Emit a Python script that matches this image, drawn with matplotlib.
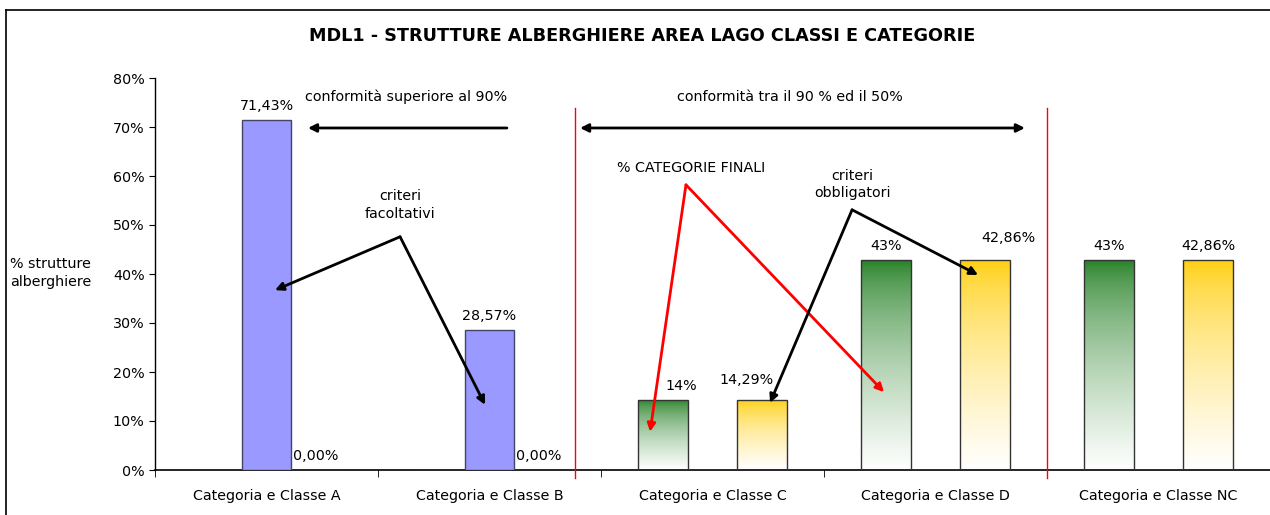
import numpy as np
import matplotlib
matplotlib.use("Agg")
import matplotlib.pyplot as plt
from matplotlib.lines import Line2D
from matplotlib.colors import to_rgb

# dati
categorie = ["Categoria e Classe A", "Categoria e Classe B", "Categoria e Classe C",
             "Categoria e Classe D", "Categoria e Classe NC"]
verde = [0, 0, 14.29, 42.86, 42.86]
blu = [71.43, 28.57, 0, 0, 0]
giallo = [0, 0, 14.29, 42.86, 42.86]
yticks = [0, 10, 20, 30, 40, 50, 60, 70, 80]

plt.rcParams['font.family'] = ['DejaVu Sans']
fs = 10.3

fig = plt.figure(figsize=(12.7, 5.15), dpi=100)
ax = fig.add_axes([155 / 1270, 45 / 515, 1115 / 1270, 392 / 515])

x = np.arange(len(categorie))
w = 0.224
off = 0.222


def gradiente(ax, bars, top_col):
    c0 = np.array(to_rgb(top_col))
    c1 = np.array([1.0, 1.0, 1.0])
    t = np.linspace(0, 1, 200)[:, None] ** 0.6
    img = (c0 * (1 - t) + c1 * t)[:, None, :]
    for b in bars:
        h = b.get_height()
        if h <= 0:
            continue
        x0 = b.get_x()
        im = ax.imshow(img, extent=(x0, x0 + b.get_width(), 0, h), aspect='auto',
                       origin='upper', zorder=2, interpolation='bilinear')
        im.set_clip_path(b)


b_verde = ax.bar(x - off, verde, w, facecolor='none', edgecolor='#333333', linewidth=1.0, zorder=3)
b_blu = ax.bar(x, blu, w, color='#9999FF', edgecolor='#444466', linewidth=1.0, zorder=3)
b_giallo = ax.bar(x + off, giallo, w, facecolor='none', edgecolor='#333333', linewidth=1.0, zorder=3)
gradiente(ax, b_verde, '#1B7A1B')
gradiente(ax, b_giallo, '#FFCC00')

# etichette dei valori
spost_verde = [0, 0, 13, 0, 0]
spost_giallo = [0, 0, -11, 17, 0]
alto_giallo = [0, 0, 4, 6, 0]
for i in range(len(categorie)):
    if blu[i] > 0:
        ax.annotate(f"{blu[i]:.2f}".replace('.', ',') + "%", (x[i], blu[i]),
                    xytext=(0, 5), textcoords='offset points', ha='center', va='bottom', fontsize=fs)
    if verde[i] > 0:
        ax.annotate(f"{verde[i]:.0f}%", (x[i] - off, verde[i]),
                    xytext=(spost_verde[i], 5), textcoords='offset points', ha='center', va='bottom', fontsize=fs)
    ax.annotate(f"{giallo[i]:.2f}".replace('.', ',') + "%", (x[i] + off, giallo[i]),
                xytext=(spost_giallo[i], 5 + alto_giallo[i]), textcoords='offset points',
                ha='center', va='bottom', fontsize=fs)

ax.set_xlim(-0.5, len(categorie) - 0.5)
ax.set_ylim(0, 80)
ax.set_yticks(yticks)
ax.set_yticklabels([f"{v}%" for v in yticks], fontsize=fs)
ax.set_xticks(x)
ax.set_xticklabels(categorie, fontsize=fs)
ax.set_xticks(np.arange(-0.5, len(categorie)), minor=True)
ax.tick_params(axis='x', which='major', length=0, pad=14)
ax.tick_params(axis='x', which='minor', length=5, direction='out')
ax.tick_params(axis='y', length=4, direction='out')
for s in ['top', 'right']:
    ax.spines[s].set_visible(False)
ax.spines['left'].set_linewidth(1.0)
ax.spines['bottom'].set_linewidth(1.2)

# linee rosse di separazione
for xv in [1.383, 3.5]:
    ax.plot([xv, xv], [-1.6, 73.8], color='red', linewidth=1.0, clip_on=False, zorder=4)

# frecce e testi
nero = dict(arrowstyle='-|>', color='black', lw=2, mutation_scale=12, shrinkA=0, shrinkB=0)
rosso = dict(arrowstyle='-|>', color='red', lw=2, mutation_scale=12, shrinkA=0, shrinkB=0)
ax.annotate("", xy=(0.186, 69.8), xytext=(1.078, 69.8), arrowprops=nero)
ax.annotate("", xy=(3.401, 69.8), xytext=(1.406, 69.8),
            arrowprops=dict(arrowstyle='<|-|>', color='black', lw=2, mutation_scale=12, shrinkA=0, shrinkB=0))
ax.text(0.626, 76.1, "conformità superiore al 90%", ha='center', va='center', fontsize=fs)
ax.text(2.348, 76.1, "conformità tra il 90 % ed il 50%", ha='center', va='center', fontsize=fs)

ax.text(0.599, 54.1, "criteri\nfacoltativi", ha='center', va='center', fontsize=fs, linespacing=1.3)
ax.annotate("", xy=(0.038, 36.7), xytext=(0.599, 47.6), arrowprops=nero)
ax.annotate("", xy=(0.980, 13.3), xytext=(0.599, 47.6), arrowprops=nero)

ax.text(1.904, 61.6, "% CATEGORIE FINALI", ha='center', va='center', fontsize=fs)
ax.annotate("", xy=(1.720, 7.8), xytext=(1.881, 58.2), arrowprops=rosso)
ax.annotate("", xy=(2.769, 15.9), xytext=(1.881, 58.2), arrowprops=rosso)

ax.text(2.626, 58.2, "criteri\nobbligatori", ha='center', va='center', fontsize=fs, linespacing=1.3)
ax.annotate("", xy=(2.258, 13.7), xytext=(2.626, 53.1), arrowprops=nero)
ax.annotate("", xy=(3.191, 39.8), xytext=(2.626, 53.1), arrowprops=nero)

# titolo ed etichetta asse y
fig.text(642 / 1270, 1 - 36 / 515, "MDL1 - STRUTTURE ALBERGHIERE AREA LAGO CLASSI E CATEGORIE",
         ha='center', va='center', fontsize=12.7, fontweight='bold')
fig.text(10 / 1270, 1 - 273 / 515, "% strutture\nalberghiere", ha='left', va='center', fontsize=fs,
         linespacing=1.3)

# cornice esterna
fig.add_artist(Line2D([6 / 1270, 6 / 1270], [0, 1 - 10 / 515], color='black', lw=1.2))
fig.add_artist(Line2D([6 / 1270, 1], [1 - 10 / 515, 1 - 10 / 515], color='black', lw=1.2))

fig.savefig("out.png", dpi=100)
